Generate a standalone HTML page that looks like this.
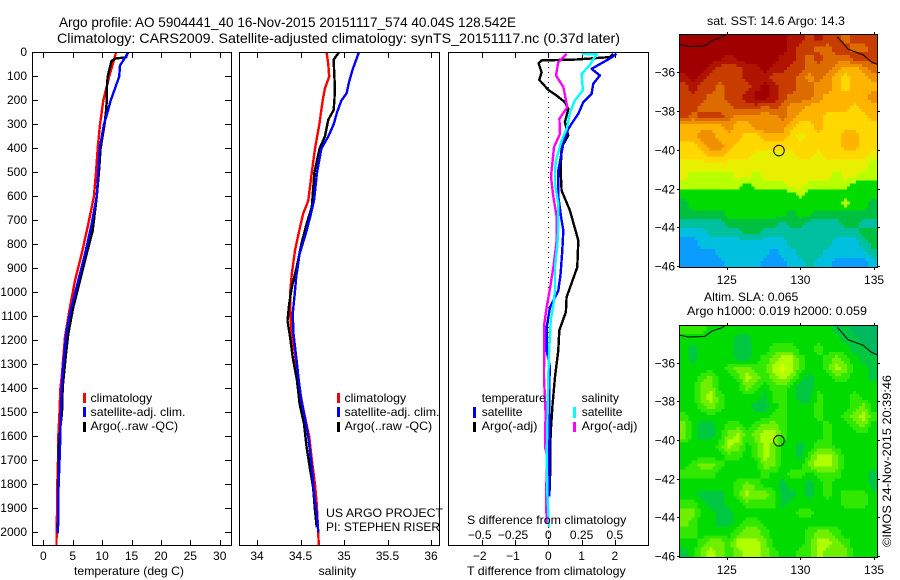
<!DOCTYPE html>
<html>
<head>
<meta charset="utf-8">
<title>Argo profile</title>
<style>
html,body{margin:0;padding:0;background:#fff;width:900px;height:580px;overflow:hidden}
svg{display:block}
text{font-family:"Liberation Sans",sans-serif;font-size:12px;fill:#000}
.t14{font-size:14px}
</style>
</head>
<body>
<svg id="fig" xmlns="http://www.w3.org/2000/svg" width="900" height="580" viewBox="0 0 900 580">
<defs>
<clipPath id="clipP1"><rect x="32" y="52" width="199" height="493"/></clipPath>
<clipPath id="clipP2"><rect x="239" y="52" width="200" height="493"/></clipPath>
<clipPath id="clipP3"><rect x="448" y="52" width="200" height="493"/></clipPath>
</defs>
<text class="t14" x="59" y="27" textLength="457" lengthAdjust="spacingAndGlyphs">Argo profile: AO 5904441_40 16-Nov-2015 20151117_574 40.04S 128.542E</text>
<text class="t14" x="57" y="43" textLength="563" lengthAdjust="spacingAndGlyphs">Climatology: CARS2009. Satellite-adjusted climatology: synTS_20151117.nc (0.37d later)</text>
<g id="layer"></g>
<g>
<rect x="83" y="393" width="3" height="10" fill="#f00"/>
<rect x="83" y="407" width="3" height="10" fill="#00f"/>
<rect x="83" y="422" width="3" height="10" fill="#000"/>
<text x="90.5" y="402" textLength="61.7" lengthAdjust="spacingAndGlyphs">climatology</text>
<text x="90.5" y="416" textLength="95" lengthAdjust="spacingAndGlyphs">satellite-adj. clim.</text>
<text x="90.5" y="430" textLength="87.7" lengthAdjust="spacingAndGlyphs">Argo(..raw -QC)</text>
</g>
<g>
<rect x="337" y="393" width="3" height="10" fill="#f00"/>
<rect x="337" y="407" width="3" height="10" fill="#00f"/>
<rect x="337" y="422" width="3" height="10" fill="#000"/>
<text x="344.5" y="402" textLength="61.7" lengthAdjust="spacingAndGlyphs">climatology</text>
<text x="344.5" y="416" textLength="95" lengthAdjust="spacingAndGlyphs">satellite-adj. clim.</text>
<text x="344.5" y="430" textLength="87.7" lengthAdjust="spacingAndGlyphs">Argo(..raw -QC)</text>
<text x="326" y="517" textLength="117" lengthAdjust="spacingAndGlyphs">US ARGO PROJECT</text>
<text x="326" y="531" textLength="114" lengthAdjust="spacingAndGlyphs">PI: STEPHEN RISER</text>
</g>
<g>
<text x="481.7" y="402" textLength="64" lengthAdjust="spacingAndGlyphs">temperature</text>
<text x="481.7" y="416" textLength="40.7" lengthAdjust="spacingAndGlyphs">satellite</text>
<text x="481.7" y="430" textLength="55.7" lengthAdjust="spacingAndGlyphs">Argo(-adj)</text>
<text x="581.7" y="402" textLength="37.3" lengthAdjust="spacingAndGlyphs">salinity</text>
<text x="581.7" y="416" textLength="40.7" lengthAdjust="spacingAndGlyphs">satellite</text>
<text x="581.7" y="430" textLength="55.7" lengthAdjust="spacingAndGlyphs">Argo(-adj)</text>
<rect x="473" y="407" width="3" height="11" fill="#00f"/>
<rect x="473" y="422" width="3" height="10" fill="#000"/>
<rect x="573" y="407" width="3" height="11" fill="#0ff"/>
<rect x="573" y="422" width="3" height="10" fill="#f0f"/>
</g>
<text x="74" y="575" textLength="110" lengthAdjust="spacingAndGlyphs">temperature (deg C)</text>
<text x="318.5" y="575" textLength="37.7" lengthAdjust="spacingAndGlyphs">salinity</text>
<text x="467" y="575" textLength="158.7" lengthAdjust="spacingAndGlyphs">T difference from climatology</text>
<text x="467" y="524" textLength="159.3" lengthAdjust="spacingAndGlyphs">S difference from climatology</text>
<text x="707" y="25" textLength="138" lengthAdjust="spacingAndGlyphs">sat. SST: 14.6  Argo: 14.3</text>
<text x="704" y="301" textLength="94.3" lengthAdjust="spacingAndGlyphs">Altim. SLA: 0.065</text>
<text x="687" y="315" textLength="180" lengthAdjust="spacingAndGlyphs">Argo h1000: 0.019 h2000: 0.059</text>
<text transform="rotate(-90 891 547)" x="891" y="547" textLength="172" lengthAdjust="spacingAndGlyphs">©IMOS 24-Nov-2015 20:39:46</text>
</svg>
<script>
// ---------- depth-axis data ----------
const depthTicks = [0,100,200,300,400,500,600,700,800,900,1000,1100,1200,1300,1400,1500,1600,1700,1800,1900,2000];
// ---------- temperature panel ----------
const tempTicks = [0,5,10,15,20,25,30];
const tempClimDepth = [0,100,200,300,400,500,600,714,839,950,1061,1186,1352,1400,1500,1600,1700,1800,1900,2000,2055];
const tempClim = [12.36,11.2,10.2,9.64,9.25,8.96,8.6,7.65,6.53,5.39,4.54,3.69,3.13,2.9,2.75,2.55,2.5,2.38,2.35,2.27,2.25];
const tempArgoDepth = [0,20,25,35,100,150,200,250,300,400,500,603,742,839,950,1061,1172,1256,1394,1500,1560,1644,1728,1840,1950,2005];
const tempArgo = [14.3,14.1,12.3,11.6,10.95,10.8,10.8,10.65,10.4,9.75,9.45,9.08,8.4,7.38,6.24,5.1,4.25,3.86,3.3,3.18,2.9,2.62,2.65,2.5,2.5,2.45];
const tempSatDepth = [0,54,100,150,200,250,300,400,500,600,714,839,950,1075,1158,1270,1380,1500,1644,1728,1840,1950,2005];
const tempSat = [14.46,13.05,12.9,12.2,11.46,10.9,10.3,9.6,9.35,9.08,8.23,7.09,5.95,4.66,3.98,3.52,3.18,3.0,2.84,2.72,2.55,2.55,2.45];
// ---------- salinity panel ----------
const salTicks = [34,34.5,35,35.5,36];
const salTickLabels = ['34','34.5','35','35.5','36'];
const salClimDepth = [0,50,100,150,200,300,400,500,617,672,741,825,922,1005,1088,1172,1255,1367,1500,1600,1686,1800,1881,2005,2055];
const salClim = [34.8,34.82,34.83,34.78,34.755,34.716,34.667,34.63,34.59,34.53,34.486,34.437,34.4,34.38,34.38,34.4,34.437,34.47,34.54,34.6,34.626,34.667,34.686,34.705,34.71];
const salArgoDepth = [0,15,30,100,150,200,240,280,350,400,500,644,714,797,894,978,1047,1117,1186,1269,1367,1464,1547,1644,1728,1811,1908,1978];
const salArgo = [34.94,34.91,34.88,34.89,34.895,34.89,34.88,34.82,34.78,34.72,34.66,34.63,34.57,34.51,34.456,34.4,34.37,34.35,34.38,34.41,34.46,34.49,34.54,34.57,34.606,34.645,34.667,34.686];
const salSatDepth = [0,30,70,120,170,200,250,300,350,400,500,617,686,756,839,936,1019,1089,1172,1269,1367,1450,1520,1603,1728,1839,1922,2000];
const salSat = [35.17,35.14,35.1,35.06,35.03,34.97,34.92,34.88,34.82,34.74,34.69,34.655,34.61,34.56,34.49,34.45,34.43,34.41,34.42,34.45,34.48,34.51,34.55,34.59,34.63,34.655,34.686,34.705];
// ---------- difference panel ----------
const diffTTicks = [-2,-1,0,1,2];
const diffTLabels = ['\u22122','\u22121','0','1','2'];
const diffSTicks = [-0.5,-0.25,0,0.25,0.5];
const diffSLabels = ['\u22120.5','\u22120.25','0','0.25','0.5'];
const dTArgoDepth = [6,19,29,33,44,82,114,156,179,207,235,290,346,394,492,575,658,783,894,1019,1081,1158,1241,1352,1464,1589,1783,1850];
const dTArgo = [1.95,1.85,0.85,-0.2,-0.29,-0.2,-0.27,0,0.25,0.5,0.6,0.5,0.6,0.4,0.37,0.4,0.65,0.9,0.87,0.55,0.53,0.33,0.3,0.2,0.13,0.07,0.05,0.03];
const dTSatDepth = [6,25,68,96,130,172,207,255,318,380,492,533,600,700,742,825,922,992,1061,1146,1240,1312,1367,1600,1850];
const dTSat = [2.05,1.85,1.3,1.55,1.35,1.3,1.05,0.9,0.6,0.45,0.3,0.3,0.3,0.4,0.45,0.42,0.37,0.3,0.05,-0.05,-0.05,0.05,0.03,0.03,0.03];
const dSSatDepth = [6,8,26,54,89,158,200,249,318,367,450,492,550,630,725,800,894,992,1050,1117,1256,1352,1686,1840,1978];
const dSSat = [0.25,0.364,0.34,0.31,0.25,0.26,0.2,0.163,0.138,0.1,0.058,0.05,0.05,0.075,0.075,0.068,0.05,0.05,0.038,0.018,0.005,0,-0.012,-0.007,0.005];
const dSArgoDepth = [6,40,96,144,228,276,339,394,492,519,603,686,783,894,983,1061,1130,1352,1505,1644,1686,1839,1964];
const dSArgo = [0.138,0.075,0.058,0.113,0.143,0.083,0.088,0.043,0.025,0.02,0.038,0.063,0.063,0.038,0.013,-0.012,-0.03,-0.032,-0.02,-0.025,-0.007,-0.017,-0.012];
// ---------- map data ----------
const lonTicks = [125,130,135];
const latTicks = [-36,-38,-40,-42,-44,-46];
const argoLon = 128.542;
const argoLat = -40.04;
const coastWestLon = [121.8,122.4,123.5,124.0,124.66,124.9];
const coastWestLat = [-34.57,-34.67,-34.64,-34.36,-34.19,-34.07];
const coastEastLon = [132.5,133.24,134.26,134.8,135.2];
const coastEastLat = [-34.16,-34.81,-35.1,-35.45,-35.59];
const sstGrid = [
[13,13,13,13,13,13,13,13,13,13,13,13,12,12,11,12,11,11,10,11,11,11],
[13,13,13,13,13,13,13,13,13,13,13,13,12,11,11,10,10,11,11,10,10,11],
[13,13,13,13,13,12,13,13,13,13,13,12,12,11,10,11,10,10,10,11,11,11],
[13,13,13,12,11,11,11,12,12,13,12,12,11,11,10,10,10,9,8,8,9,10],
[12,13,12,11,11,11,11,12,12,12,11,11,11,10,9,10,9,8,7,8,8,9],
[11,12,11,11,10,11,11,11,12,13,12,11,11,10,10,9,9,8,7,8,8,8],
[11,11,11,10,10,11,11,12,13,13,12,11,10,10,10,9,8,8,8,8,8,9],
[11,11,10,10,10,10,11,11,11,10,11,10,9,9,8,8,8,8,8,7,8,8],
[11,10,11,11,11,10,9,9,9,9,9,10,9,8,8,8,7,7,7,7,7,8],
[8,8,8,8,8,9,8,8,9,9,9,9,8,7,7,8,7,7,7,7,7,7],
[8,8,9,9,8,8,8,7,7,8,8,8,7,6,7,7,7,7,8,8,7,7],
[7,7,8,9,9,8,7,7,7,7,7,7,7,7,7,7,7,7,8,8,7,7],
[7,7,7,8,8,7,7,7,6,6,6,6,6,7,7,6,7,7,7,7,7,6],
[6,6,6,6,6,6,6,6,6,6,6,6,6,6,6,6,6,6,6,6,6,5],
[6,5,5,5,5,5,6,6,5,6,6,6,6,6,6,6,6,5,6,6,5,5],
[5,5,5,5,5,5,5,4,5,5,5,5,6,6,5,5,5,5,5,4,4,4],
[4,4,4,4,4,4,4,4,4,4,4,4,4,5,4,4,4,4,4,4,4,4],
[3,4,4,4,4,4,4,4,4,4,4,4,4,4,4,4,4,4,5,4,4,3],
[3,3,3,3,3,4,4,4,4,4,4,4,3,4,4,3,3,3,3,3,3,3],
[2,2,2,2,2,3,3,3,3,3,3,2,3,3,2,2,2,2,3,3,2,2],
[1,1,1,2,2,2,2,3,3,2,2,2,2,2,2,2,2,2,2,2,3,3],
[0,0,1,1,1,1,1,1,1,1,1,1,2,2,2,2,2,1,1,1,2,3],
[0,0,0,0,1,1,1,1,1,1,0,1,1,2,2,2,1,1,1,1,1,2],
[0,0,0,0,0,1,1,1,1,0,0,0,1,1,2,1,1,0,0,0,0,1]
];
const slaGrid = [
[3,3,3,2,2,2,2,2,2,2,2,2,2,2,2,2,2,1,1,0,0,0],
[2,2,2,2,2,2,1,1,2,2,2,2,2,2,2,2,2,2,1,1,0,0],
[2,1,2,2,2,2,1,1,2,2,3,3,3,2,2,3,2,2,2,1,1,0],
[2,1,2,2,2,2,1,1,2,3,4,5,5,3,2,2,3,4,3,2,1,1],
[2,2,2,2,2,3,4,4,3,3,5,6,5,3,2,2,3,5,4,2,2,1],
[2,2,3,4,2,2,3,5,4,3,4,5,4,2,1,2,2,3,3,2,2,1],
[2,2,4,4,2,2,2,4,3,2,3,3,2,1,1,2,2,2,2,2,2,2],
[2,2,4,5,3,2,2,2,2,1,3,3,2,1,1,3,2,2,2,3,2,2],
[2,2,3,4,3,2,2,2,1,1,2,3,2,2,2,3,2,2,2,3,4,2],
[3,2,2,2,2,2,2,2,2,2,3,3,2,2,2,3,2,2,3,4,5,3],
[4,2,1,1,2,3,3,2,3,4,4,3,2,2,2,2,3,2,2,3,4,2],
[4,2,1,1,2,4,5,3,4,5,5,3,2,2,2,2,3,2,2,2,2,2],
[2,2,2,2,3,5,4,2,3,5,4,2,2,1,2,3,3,2,2,2,2,2],
[2,2,2,2,2,3,3,2,3,5,4,2,2,1,3,5,5,4,2,2,2,2],
[2,3,4,4,3,2,2,2,2,4,4,2,2,2,4,5,5,4,2,2,2,2],
[3,3,3,3,2,2,2,2,2,3,2,2,3,3,2,3,3,3,2,2,2,1],
[2,2,2,2,2,2,3,4,3,2,2,1,2,2,1,2,3,2,2,2,2,1],
[2,2,1,1,1,2,3,5,4,4,3,1,1,2,1,2,3,2,3,3,3,2],
[3,3,2,1,1,2,2,3,3,3,3,1,2,2,2,2,2,2,3,3,3,2],
[4,4,2,2,1,1,2,2,2,2,2,2,2,3,3,2,2,2,2,2,2,2],
[4,3,2,2,1,1,2,3,3,2,2,2,2,2,2,2,2,2,2,2,2,2],
[3,3,2,2,2,2,3,4,4,3,2,2,2,2,3,4,4,3,2,2,2,2],
[2,2,3,4,4,3,5,5,5,4,2,2,2,2,3,5,5,4,3,2,2,2],
[1,2,4,5,4,3,4,5,5,4,3,2,2,3,3,5,4,4,4,2,2,2]
];
// ---------- colour ramps (level -> colour) ----------
const sstColors = ['#0a9cff','#00c0e0','#00c0a0','#00c040','#00dc00','#b8ff00','#e8f000','#ffd800','#ffb400','#f09000','#dc6c00','#c83c00','#b01400','#a00000'];
const slaColors = ['#00b860','#00c840','#00dc00','#30e800','#70f000','#b0ff00','#d0ff00'];

const NS = 'http://www.w3.org/2000/svg';
const layer = document.getElementById('layer');
function mk(tag, attrs, parent){
  const el = document.createElementNS(NS, tag);
  for (const k in attrs) el.setAttribute(k, attrs[k]);
  (parent || layer).appendChild(el);
  return el;
}
// axis functions
const depthY = d => 52.5 + d * 0.24;
const tempX = v => 43.3 + v * 5.88;
const salX = v => 257 + (v - 34) * 87;
const dTX = v => 548.3 + v * 33.3;
const dSX = v => 548.3 + v * 133.2;
const LON0 = 121.79, LON1 = 135.2;
const lonX = v => 679.5 + (v - LON0) * (197.5 / (LON1 - LON0));
const LAT0 = -34.04, LAT1 = -46.05;
const sstY = v => 72.3 + (-36 - v) * 19.37;
const slaY = v => 362.7 + (-36 - v) * 19.3;

function label(x, y, txt, anchor, name){
  const t = mk('text', {x:x, y:y, 'text-anchor':anchor});
  t.textContent = txt;
  
  
  return t;
}
function seg(x1, y1, x2, y2, name){
  const l = mk('line', {x1:x1, y1:y1, x2:x2, y2:y2, stroke:'#000', 'stroke-width':1, 'shape-rendering':'crispEdges'});
  
  
  return l;
}
function panelFrame(x0, x1, name){
  const r = mk('rect', {x:x0+0.5, y:52.5, width:x1-x0, height:493, fill:'none', stroke:'#000', 'stroke-width':1, 'shape-rendering':'crispEdges'});
  
  
}
function xTicks(ticks, fx){
  ticks.forEach(v => {
    const x = Math.round(fx(v)) + 0.5;
    seg(x, 52, x, 58, 'x-tick-top');
    seg(x, 540, x, 545, 'x-tick-bottom');
  });
}
function profile(xs, ds, fx, color, clip, name){
  const pts = xs.map((v, i) => fx(v).toFixed(1) + ',' + depthY(ds[i]).toFixed(1)).join(' ');
  const p = mk('polyline', {points:pts, fill:'none', stroke:color, 'stroke-width':2.4, 'stroke-linejoin':'round', 'shape-rendering':'crispEdges', 'clip-path':'url(#'+clip+')'});
  
  
}

// Panel 1: temperature
depthTicks.forEach(d => {
  const y = Math.round(depthY(d) - 0.5) + 0.5;
  label(27, y + 3.5, String(d), 'end', 'y-tick-label');
  seg(32, y, 38, y, 'y-tick-left');
  seg(225, y, 231, y, 'y-tick-right');
});
xTicks(tempTicks, tempX);
tempTicks.forEach(v => label(tempX(v), 560, String(v), 'middle', 'x-tick-label'));
profile(tempClim, tempClimDepth, tempX, '#f00', 'clipP1', 'temperature-climatology-line');
profile(tempArgo, tempArgoDepth, tempX, '#000', 'clipP1', 'temperature-argo-line');
profile(tempSat, tempSatDepth, tempX, '#00f', 'clipP1', 'temperature-satellite-line');
panelFrame(32, 231, 'temperature-panel-frame');

// Panel 2: salinity
xTicks(salTicks, salX);
salTicks.forEach((v, i) => label(salX(v), 560, salTickLabels[i], 'middle', 'x-tick-label'));
profile(salClim, salClimDepth, salX, '#f00', 'clipP2', 'salinity-climatology-line');
profile(salArgo, salArgoDepth, salX, '#000', 'clipP2', 'salinity-argo-line');
profile(salSat, salSatDepth, salX, '#00f', 'clipP2', 'salinity-satellite-line');
panelFrame(239, 439, 'salinity-panel-frame');

// Panel 3: differences
const zero = mk('line', {x1:dTX(0), y1:52, x2:dTX(0), y2:540, stroke:'#000', 'stroke-width':1, 'stroke-dasharray':'1 4', 'shape-rendering':'crispEdges'});


xTicks(diffTTicks, dTX);
diffTTicks.forEach((v, i) => label(dTX(v) - (v < 0 ? 2 : 0), 560, diffTLabels[i], 'middle', 'x-tick-label-t'));
diffSTicks.forEach((v, i) => label(dSX(v) - (v < 0 ? 2 : 0), 539, diffSLabels[i], 'middle', 'x-tick-label-s'));
profile(dTArgo, dTArgoDepth, dTX, '#000', 'clipP3', 't-difference-argo-line');
profile(dSArgo, dSArgoDepth, dSX, '#f0f', 'clipP3', 's-difference-argo-line');
profile(dTSat, dTSatDepth, dTX, '#00f', 'clipP3', 't-difference-satellite-line');
profile(dSSat, dSSatDepth, dSX, '#0ff', 'clipP3', 's-difference-satellite-line');
panelFrame(448, 648, 'difference-panel-frame');

// Maps: grid levels sampled bilinearly onto the ~3px display raster, quantised to the discrete palette
function sampleGrid(grid, fr, fc){
  const rows = grid.length, cols = grid[0].length;
  const v = Math.min(rows - 1, Math.max(0, fr * rows - 0.5));
  const u = Math.min(cols - 1, Math.max(0, fc * cols - 0.5));
  const r0 = Math.floor(v), c0 = Math.floor(u);
  const r1 = Math.min(rows - 1, r0 + 1), c1 = Math.min(cols - 1, c0 + 1);
  const a = v - r0, b = u - c0;
  return (1 - a) * ((1 - b) * grid[r0][c0] + b * grid[r0][c1]) + a * ((1 - b) * grid[r1][c0] + b * grid[r1][c1]);
}
function drawMap(grid, colors, fy, top, bottom, cellName, prefix){
  const x0 = lonX(LON0), x1 = lonX(LON1), y0 = fy(LAT0), y1 = fy(LAT1);
  const nx = Math.round((x1 - x0) / 3), ny = Math.round((y1 - y0) / 3);
  const dx = (x1 - x0) / nx, dy = (y1 - y0) / ny;
  for (let r = 0; r < ny; r++) {
    for (let c = 0; c < nx; c++) {
      const level = Math.round(sampleGrid(grid, (r + 0.5) / ny, (c + 0.5) / nx));
      const cell = mk('rect', {x:x0 + c * dx, y:y0 + r * dy, width:dx + 0.5, height:dy + 0.5, fill:colors[level], 'shape-rendering':'crispEdges'});
      
      
    }
  }
  const w = mk('polyline', {points:coastWestLon.map((v, i) => lonX(v) + ',' + fy(coastWestLat[i])).join(' '), fill:'none', stroke:'#000', 'stroke-width':1});
  
  
  const e = mk('polyline', {points:coastEastLon.map((v, i) => lonX(v) + ',' + fy(coastEastLat[i])).join(' '), fill:'none', stroke:'#000', 'stroke-width':1});
  
  
  const frame = mk('rect', {x:679.5, y:top + 0.5, width:198, height:bottom - top, fill:'none', stroke:'#000', 'stroke-width':1, 'shape-rendering':'crispEdges'});
  
  
  lonTicks.forEach(v => {
    const x = Math.round(lonX(v)) + 0.5;
    seg(x, top - 2, x, top, prefix + '-lon-tick-top');
    seg(x, bottom, x, bottom + 3, prefix + '-lon-tick-bottom');
    label(lonX(v), bottom + 17, String(v), 'middle', prefix + '-lon-label');
  });
  latTicks.forEach(v => {
    const y = Math.round(fy(v)) + 0.5;
    seg(677, y, 680, y, prefix + '-lat-tick-left');
    seg(877, y, 880, y, prefix + '-lat-tick-right');
    label(675, y + 4, '\u2212' + Math.abs(v), 'end', prefix + '-lat-label');
  });
  const c = mk('circle', {cx:lonX(argoLon), cy:fy(argoLat), r:5.3, fill:'none', stroke:'#000', 'stroke-width':1});
  
  
}
drawMap(sstGrid, sstColors, sstY, 34, 267, 'sst-cell', 'sst');
drawMap(slaGrid, slaColors, slaY, 325, 557, 'sla-cell', 'sla');
</script>
</body>
</html>
